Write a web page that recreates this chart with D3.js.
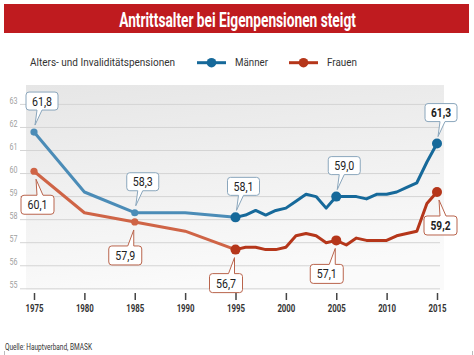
<!DOCTYPE html>
<html><head><meta charset="utf-8">
<script src="https://cdn.jsdelivr.net/npm/d3@7"></script>
<style>html,body{margin:0;padding:0;background:#fff;} svg{display:block;}</style>
</head><body><svg id="c" width="474" height="355"></svg>
<script>
const years = [1975,1980,1985,1990,1995,1996,1997,1998,1999,2000,2001,2002,2003,2004,2005,2006,2007,2008,2009,2010,2011,2012,2013,2014,2015];
const maenner = [61.8,59.2,58.3,58.3,58.1,58.2,58.4,58.2,58.4,58.5,58.8,59.1,59.0,58.5,59.0,59.0,59.0,58.9,59.1,59.1,59.2,59.4,59.6,60.5,61.3];
const frauen  = [60.1,58.3,57.9,57.5,56.7,56.8,56.8,56.7,56.7,56.8,57.3,57.4,57.3,57.0,57.1,56.9,57.2,57.1,57.1,57.1,57.3,57.4,57.5,58.7,59.2];
const labelYears = [1975,1985,1995,2005,2015];
const yTicks = [55,56,57,58,59,60,61,62,63];
const xTicks = [1975,1980,1985,1990,1995,2000,2005,2010,2015];
const titleText = "Antrittsalter bei Eigenpensionen steigt";
const legendTitle = "Alters- und Invaliditätspensionen";
const seriesNames = ["Männer","Frauen"];
const sourceText = "Quelle: Hauptverband, BMASK";

const svg = d3.select("#c");
const FONT = "Roboto, 'Liberation Sans', Arial, sans-serif";
const narrow = (sel, w) => sel.attr("textLength", w).attr("lengthAdjust", "spacingAndGlyphs");

const x = d3.scaleLinear().domain([1975, 2015]).range([34, 437]);
const y = d3.scaleLinear().domain([55, 63]).range([288.8, 104.4]);

const colors = {
  m: {light: "#4b8cb7", dark: "#16699a", border: "#8aa6bc"},
  f: {light: "#cf6446", dark: "#b5361a", border: "#b9644c"}
};

// title bar
svg.append("rect").attr("x", 4).attr("y", 4).attr("width", 465).attr("height", 29).attr("fill", "#bf1b1f");
const title = svg.append("text").attr("text-anchor", "middle").attr("fill", "#fff")
  .attr("font-family", FONT).attr("font-weight", "bold").attr("font-size", 21)
  .text(titleText);
const tl = title.node().getComputedTextLength();
title.attr("transform", `translate(237.5,26.5) scale(${237 / tl},1)`);

// legend
svg.append("text").attr("x", 30).attr("y", 66).attr("fill", "#333")
  .attr("font-family", FONT).attr("font-size", 11.5).text(legendTitle).call(narrow, 145);
const legItems = [
  {name: seriesNames[0], col: colors.m.dark, x0: 197, tx: 235, tw: 33},
  {name: seriesNames[1], col: colors.f.dark, x0: 289, tx: 327, tw: 30}
];
legItems.forEach(d => {
  svg.append("line").attr("x1", d.x0).attr("x2", d.x0 + 29).attr("y1", 62.7).attr("y2", 62.7)
    .attr("stroke", d.col).attr("stroke-width", 3);
  svg.append("circle").attr("cx", d.x0 + 14.5).attr("cy", 62.7).attr("r", 4.8).attr("fill", d.col);
  svg.append("text").attr("x", d.tx).attr("y", 66).attr("fill", "#333")
    .attr("font-family", FONT).attr("font-size", 11.5).text(d.name).call(narrow, d.tw);
});

// panel background
const defs = svg.append("defs");
const g = defs.append("linearGradient").attr("id", "bg").attr("x1", 0).attr("y1", 0).attr("x2", 0.25).attr("y2", 1);
g.append("stop").attr("offset", "0%").attr("stop-color", "#e6e6e6");
g.append("stop").attr("offset", "100%").attr("stop-color", "#fafafa");
svg.append("rect").attr("x", 26).attr("y", 85).attr("width", 418).attr("height", 205).attr("fill", "url(#bg)");

// grid + y labels
svg.append("g").selectAll("line").data(yTicks).join("line")
  .attr("x1", 20).attr("x2", 440).attr("y1", d => y(d)).attr("y2", d => y(d))
  .attr("stroke", "#d4d4d4").attr("stroke-width", 1);
svg.append("g").selectAll("text").data(yTicks).join("text")
  .attr("x", 17.5).attr("y", d => y(d) - 0.8).attr("text-anchor", "end")
  .attr("font-family", FONT).attr("font-size", 9).attr("fill", "#a0a0a0")
  .text(d => d).call(narrow, 8);

// x axis
const xAxis = svg.append("g").attr("transform", "translate(0,293)")
  .call(d3.axisBottom(x).tickValues(xTicks).tickSize(7).tickFormat(d3.format("d")));
xAxis.select(".domain").remove();
xAxis.selectAll(".tick line").attr("stroke", "#444").attr("stroke-width", 1.5);
xAxis.selectAll(".tick text").attr("y", 19).attr("dy", 0)
  .attr("font-family", FONT).attr("font-weight", "bold").attr("font-size", 10).attr("fill", "#333")
  .call(narrow, 18);

// lines
const idx1995 = years.indexOf(1995);
const line = d3.line().x(d => x(d[0])).y(d => y(d[1]));
function drawSeries(vals, c) {
  const pts = years.map((yr, i) => [yr, vals[i]]);
  svg.append("path").attr("d", line(pts.slice(0, idx1995 + 1))).attr("fill", "none")
    .attr("stroke", c.light).attr("stroke-width", 3).attr("stroke-linejoin", "round");
  svg.append("path").attr("d", line(pts.slice(idx1995))).attr("fill", "none")
    .attr("stroke", c.dark).attr("stroke-width", 3).attr("stroke-linejoin", "round");
  labelYears.forEach(yr => {
    const i = years.indexOf(yr);
    const early = yr < 1995;
    svg.append("circle").attr("cx", x(yr)).attr("cy", y(vals[i]))
      .attr("r", early ? 3.6 : 5).attr("fill", early ? c.light : c.dark);
  });
}
drawSeries(maenner, colors.m);
drawSeries(frauen, colors.f);

// callouts
function calloutPath(bx, by, w, h, r, side, t0, t1, tipX, tipY) {
  if (side === "bottom") {
    return `M${bx+r},${by} H${bx+w-r} Q${bx+w},${by} ${bx+w},${by+r} V${by+h-r} Q${bx+w},${by+h} ${bx+w-r},${by+h} H${t1} L${tipX},${tipY} L${t0},${by+h} H${bx+r} Q${bx},${by+h} ${bx},${by+h-r} V${by+r} Q${bx},${by} ${bx+r},${by} Z`;
  }
  return `M${bx+r},${by} H${t0} L${tipX},${tipY} L${t1},${by} H${bx+w-r} Q${bx+w},${by} ${bx+w},${by+r} V${by+h-r} Q${bx+w},${by+h} ${bx+w-r},${by+h} H${bx+r} Q${bx},${by+h} ${bx},${by+h-r} V${by+r} Q${bx},${by} ${bx+r},${by} Z`;
}
const fmt = v => d3.format(".1f")(v).replace(".", ",");

labelYears.forEach((yr, k) => {
  const i = years.indexOf(yr);
  const last = k === labelYears.length - 1;
  // men: above
  {
    const px = x(yr), py = y(maenner[i]);
    const w = 32, h = 18;
    const bx = px - (last ? 12 : 8), by = py - 40;
    svg.append("path").attr("d", calloutPath(bx, by, w, h, 3, "bottom", px + 3, px + 8, px + 1, py - 7))
      .attr("fill", "#fff").attr("stroke", colors.m.border).attr("stroke-width", 1);
    svg.append("text").attr("x", bx + 6).attr("y", by + h / 2 + 4.6)
      .attr("font-family", FONT).attr("font-size", 12.5).attr("fill", "#222")
      .attr("font-weight", last ? "bold" : "normal")
      .text(fmt(maenner[i])).call(narrow, 20);
  }
  // women: below
  {
    const px = x(yr), py = y(frauen[i]);
    const w = 33, h = 19;
    const edge = k === 0 || last;
    const bx = px - (edge ? 13 : 26), by = py + 24;
    const t0 = edge ? px + 3 : px - 7, t1 = edge ? px + 9 : px - 1;
    const tipX = edge ? px + 2 : px - 1;
    svg.append("path").attr("d", calloutPath(bx, by, w, h, 3, "top", t0, t1, tipX, py + 8))
      .attr("fill", "#fff").attr("stroke", colors.f.border).attr("stroke-width", 1);
    svg.append("text").attr("x", bx + 6.5).attr("y", by + h / 2 + 4.6)
      .attr("font-family", FONT).attr("font-size", 12.5).attr("fill", "#222")
      .attr("font-weight", last ? "bold" : "normal")
      .text(fmt(frauen[i])).call(narrow, 20);
  }
});

// source
svg.append("text").attr("x", 5).attr("y", 350).attr("fill", "#333")
  .attr("font-family", FONT).attr("font-size", 8.5).text(sourceText).call(narrow, 87);
svg.append("line").attr("x1", 4.5).attr("x2", 4.5).attr("y1", 351).attr("y2", 355).attr("stroke", "#bbb");
svg.append("line").attr("x1", 472.5).attr("x2", 472.5).attr("y1", 351).attr("y2", 355).attr("stroke", "#bbb");
</script></body></html>
